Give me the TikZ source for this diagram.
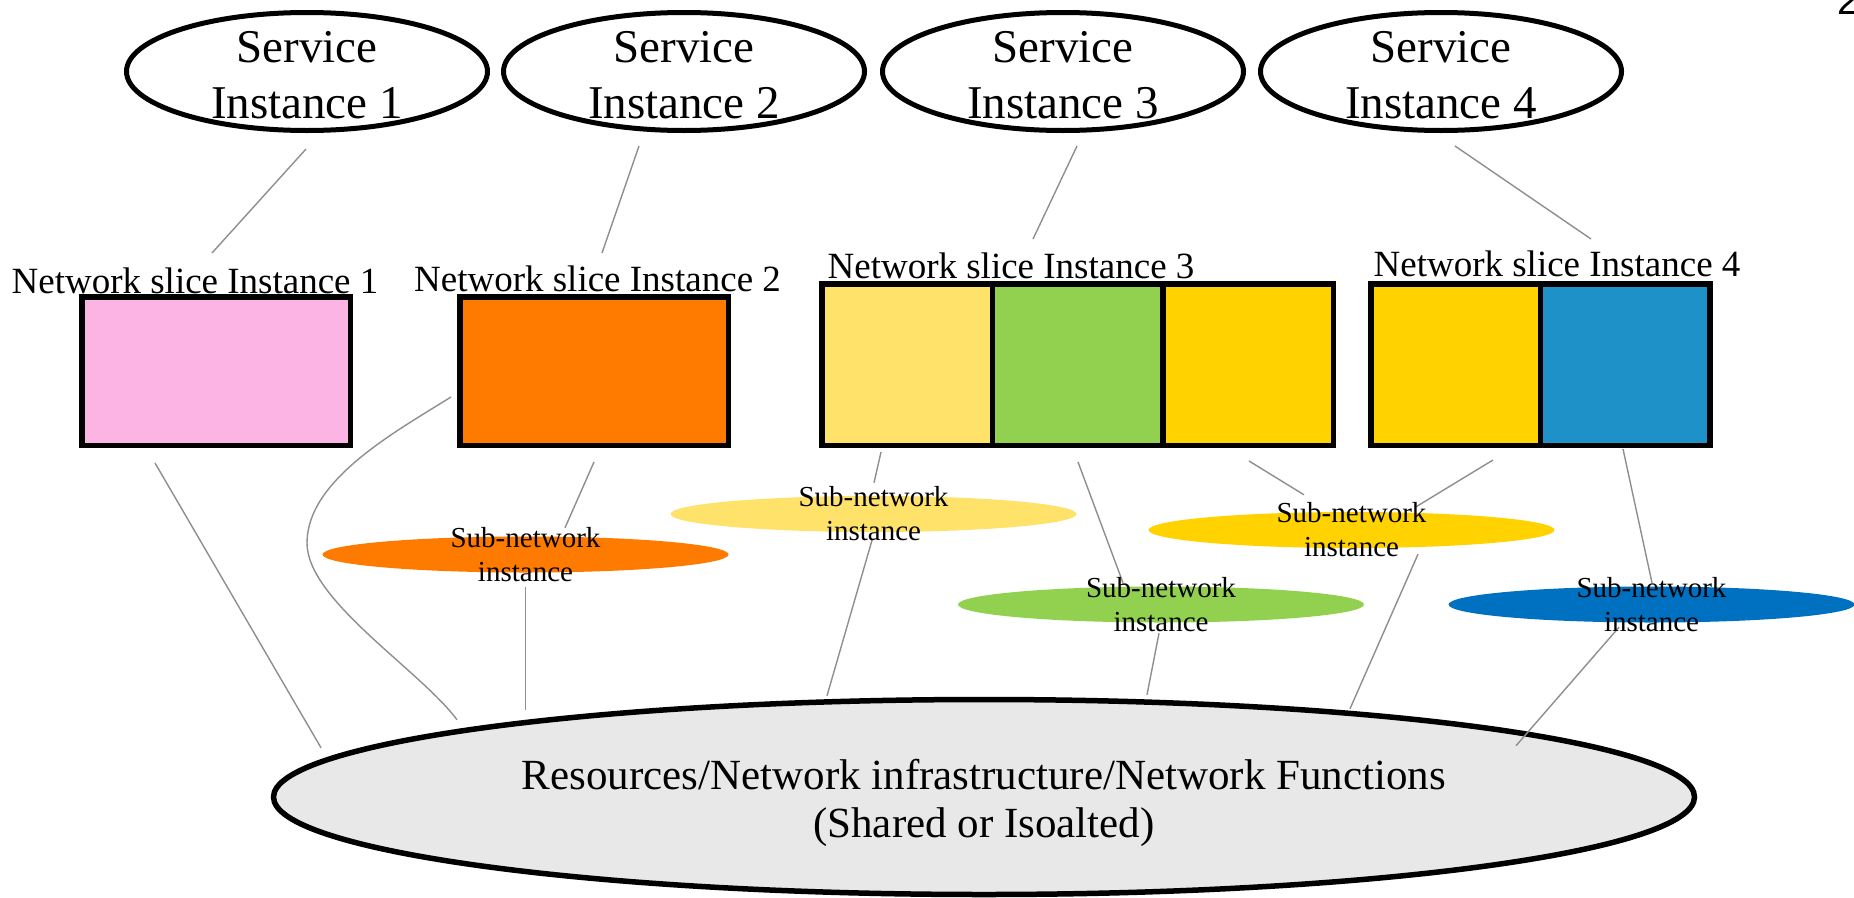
\documentclass[tikz,border=0pt]{standalone}
\usepackage{fontspec}
\setmainfont{Liberation Serif}
\newfontfamily\pagenumfont{Liberation Sans}
\usetikzlibrary{shapes.geometric,calc}

\definecolor{slicepink}{HTML}{FCB4E4}
\definecolor{sliceorange}{HTML}{FF7B00}
\definecolor{lightyellow}{HTML}{FFE269}
\definecolor{leafgreen}{HTML}{92D050}
\definecolor{gold}{HTML}{FFD200}
\definecolor{skyblue}{HTML}{1F91C9}
\definecolor{deepblue}{HTML}{0070C0}
\definecolor{infragray}{HTML}{E8E8E8}
\definecolor{linegray}{HTML}{8E8E8E}

\tikzset{
  svc/.style={ellipse, draw=black, line width=5pt, fill=white,
    minimum width=361pt, minimum height=118pt, inner sep=0pt},
  svctext/.style={align=center, inner sep=0pt,
    font=\fontsize{47}{56}\selectfont},
  slicelabel/.style={anchor=base, inner sep=0pt,
    font=\fontsize{37}{44}\selectfont},
  part/.style={draw=black, line width=5.5pt, inner sep=0pt,
    minimum height=#1},
  part/.default=148.5pt,
  sub/.style={ellipse, fill=#1, draw=none, inner sep=0pt,
    minimum width=406pt, minimum height=36pt},
  subtext/.style={align=center, inner sep=0pt,
    font=\fontsize{29}{34}\selectfont},
  infra/.style={ellipse, draw=black, line width=5.5pt, fill=infragray,
    minimum width=1421pt, minimum height=195pt, inner sep=0pt},
  infratext/.style={align=center, inner sep=0pt,
    font=\fontsize{43}{48}\selectfont},
  conn/.style={draw=linegray, line width=1.4pt},
}

\begin{document}
\begin{tikzpicture}[x=1pt, y=-1pt]
\useasboundingbox (0,0) rectangle (1854,897);

% service instances
\node[svc] (si1) at (307,71.5) {};
\node[svc] (si2) at (684,71.5) {};
\node[svc] (si3) at (1063,71.5) {};
\node[svc] (si4) at (1441,71.5) {};
\node[svctext] (st1) at ($(si1.center)+(0,3.5)$) {Service\\Instance 1};
\node[svctext] (st2) at ($(si2.center)+(0,3.5)$) {Service\\Instance 2};
\node[svctext] (st3) at ($(si3.center)+(0,3.5)$) {Service\\Instance 3};
\node[svctext] (st4) at ($(si4.center)+(0,3.5)$) {Service\\Instance 4};

% network slice instances
\node[part, fill=slicepink, minimum width=268.5pt] (b1) at (216,371) {};
\node[part, fill=sliceorange, minimum width=268.5pt] (b2) at (594,371) {};
\node[part=161.5pt, fill=lightyellow, minimum width=170.5pt] (s3a) at (907,364.5) {};
\node[part=161.5pt, fill=leafgreen, minimum width=170.5pt] (s3b) at (1077.5,364.5) {};
\node[part=161.5pt, fill=gold, minimum width=170.5pt] (s3c) at (1248,364.5) {};
\node[part=161.5pt, fill=gold, minimum width=169.5pt] (s4a) at (1455.5,364.5) {};
\node[part=161.5pt, fill=skyblue, minimum width=169.5pt] (s4b) at (1625,364.5) {};

\node[slicelabel] (l1) at (195,293) {Network slice Instance 1};
\node[slicelabel] (l2) at (597.5,291) {Network slice Instance 2};
\node[slicelabel] (l3) at (1011,278) {Network slice Instance 3};
\node[slicelabel] (l4) at (1557,276) {Network slice Instance 4};

% sub-network instances
\node[sub=sliceorange] (e2) at (525.5,554.5) {};
\node[sub=lightyellow] (e3a) at (873.5,514) {};
\node[sub=gold] (e3c) at (1351.5,530) {};
\node[sub=leafgreen] (e3b) at (1161,604.5) {};
\node[sub=deepblue] (e4b) at (1651.5,604.5) {};

% shared infrastructure
\node[infra] (big) at (984,797) {};
\node[infratext] (bigtext) at ($(big.center)+(0,6)$)
  {Resources/Network infrastructure/Network Functions\\(Shared or Isoalted)};

% service to slice
\draw[conn] ($(si1.south)+(-1,16)$) -- ($(b1.north)+(-4,-41)$);
\draw[conn] ($(si2.south)+(-45,13)$) -- ($(b2.north)+(8,-41)$);
\draw[conn] ($(si3.south)+(14,13)$) -- ($(s3b.north)+(-44.5,-42)$);
\draw[conn] ($(si4.south)+(14,13)$) -- ($(s4b.north)+(-34,-42)$);

% slice to sub-network
\draw[conn] ($(b2.south)+(0,14)$) -- ($(e2.north)+(39.5,-8.5)$);
\draw[conn] ($(s3a.south)+(-26,4)$) -- ($(e3a.north)+(0.5,-13)$);
\draw[conn] ($(s3b.south)+(0.5,14)$) -- ($(e3b.north)+(-38,-3.5)$);
\draw[conn] ($(s3c.south)+(1,13)$) -- ($(e3c.north)+(-47.5,-17)$);
\draw[conn] ($(s4a.south)+(37.5,12)$) -- ($(e3c.north)+(64.5,-5)$);
\draw[conn] ($(s4b.south)+(-2,1)$) -- ($(e4b.north)+(0.5,-3.5)$);

% slices and sub-networks down to the infrastructure
\draw[conn] ($(b1.south)+(-61,15)$) -- ($(big.north)+(-663,51)$);
\coordinate (bend) at (307,543);
\draw[conn] ($(b2.west)+(-6,26)$) .. controls (395,432) and (307,480) .. (bend)
  .. controls (307,600) and (420,670) .. ($(big.north)+(-527,23)$);
\draw[conn] ($(e2.south)+(0,14.5)$) -- ($(big.north)+(-458.5,13)$);
\draw[conn] ($(e3a.south)+(-1.5,8)$) -- ($(big.north)+(-157,-1)$);
\draw[conn] ($(e3b.south)+(-2,10.5)$) -- ($(big.north)+(163,-2)$);
\draw[conn] ($(e3c.south)+(66.5,6)$) -- ($(big.north)+(366,12)$);
\draw[conn] ($(e4b.south)+(-32.5,4.5)$) -- ($(big.north)+(532,49)$);

% sub-network captions
\node[subtext] (t2) at (e2.center) {Sub-network\\instance};
\node[subtext] (t3a) at (e3a.center) {Sub-network\\instance};
\node[subtext] (t3c) at (e3c.center) {Sub-network\\instance};
\node[subtext] (t3b) at (e3b.center) {Sub-network\\instance};
\node[subtext] (t4b) at (e4b.center) {Sub-network\\instance};

% page number in the corner
\node[anchor=base west, inner sep=0pt, font=\fontsize{40}{48}\selectfont\pagenumfont]
  (pg) at (1837,14.5) {2};
\end{tikzpicture}
\end{document}
